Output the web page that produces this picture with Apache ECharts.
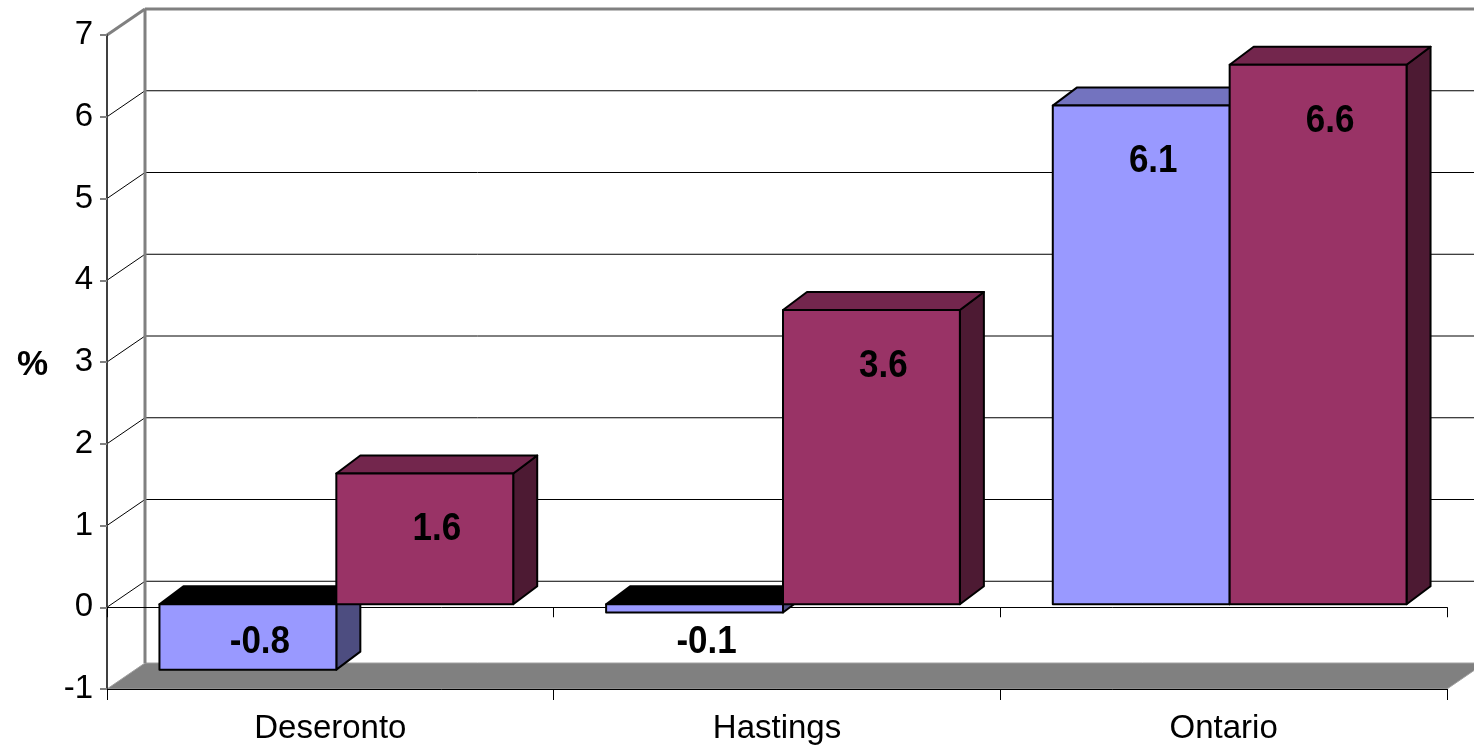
<!DOCTYPE html>
<html>
<head>
<meta charset="utf-8">
<script src="https://cdn.jsdelivr.net/npm/echarts@6/dist/echarts.min.js"></script>
<style>
html,body{margin:0;padding:0;background:#fff;}
#chart{width:1474px;height:747px;}
</style>
</head>
<body>
<div id="chart"></div>
<script>
// ---- data ----
const categories = ['Deseronto', 'Hastings', 'Ontario'];
const seriesA = [-0.8, -0.1, 6.1];   // blue series
const seriesB = [1.6, 3.6, 6.6];     // maroon series
const yMin = -1, yMax = 7, yStep = 1;

// ---- style constants ----
const FONT = 'Liberation Sans, Arial, sans-serif';
const WALL_DX = 38, WALL_DY = -26;     // depth of chart walls
const BAR_OFF_X = 6, BAR_OFF_Y = -3;   // bar front face offset into depth
const BAR_DX = 24, BAR_DY = -18;       // bar depth
const BAR_FRAC = 0.396;                // bar width / category width

const chart = echarts.init(document.getElementById('chart'));

function bgRender(params, api) {
  const cs = params.coordSys;
  const left = cs.x, right = cs.x + cs.width;
  const children = [];
  const yb = api.coord([0, yMin])[1];
  const yt = api.coord([0, yMax])[1];
  children.push({type: 'polygon', shape: {points: [[left, yb], [right, yb], [right + WALL_DX, yb + WALL_DY], [left + WALL_DX, yb + WALL_DY]]},
    style: {fill: '#808080', stroke: '#a0a0a0', lineWidth: 1}});
  for (let v = yMin + yStep; v < yMax; v += yStep) {
    const y = api.coord([0, v])[1];
    children.push({type: 'line', shape: {x1: left, y1: y, x2: left + WALL_DX, y2: y + WALL_DY}, style: {stroke: '#000', lineWidth: 1}});
    children.push({type: 'line', shape: {x1: left + WALL_DX, y1: y + WALL_DY, x2: right + WALL_DX + 40, y2: y + WALL_DY}, style: {stroke: '#000', lineWidth: 1}});
  }
  children.push({type: 'line', shape: {x1: left + WALL_DX, y1: yt + WALL_DY, x2: left + WALL_DX, y2: yb + WALL_DY}, style: {stroke: '#808080', lineWidth: 3}});
  children.push({type: 'line', shape: {x1: left, y1: yt, x2: left + WALL_DX, y2: yt + WALL_DY}, style: {stroke: '#808080', lineWidth: 3}});
  children.push({type: 'line', shape: {x1: left + WALL_DX, y1: yt + WALL_DY, x2: right + WALL_DX + 40, y2: yt + WALL_DY}, style: {stroke: '#808080', lineWidth: 3}});
  return {type: 'group', children: children};
}

function barRender(side, front, top, sideCol) {
  return function (params, api) {
    const idx = api.value(0), v = api.value(1);
    const c = api.coord([idx, 0]);
    const p = api.coord([idx, v]);
    const catW = api.size([1, 0])[0];
    const bw = catW * BAR_FRAC;
    const x0 = c[0] + BAR_OFF_X + side * bw, x1 = x0 + bw;
    const yZero = c[1] + BAR_OFF_Y, yVal = p[1] + BAR_OFF_Y;
    const yTop = Math.min(yZero, yVal), yBot = Math.max(yZero, yVal);
    const stroke = {stroke: '#000', lineWidth: 2, lineJoin: 'round'};
    const children = [
      {type: 'polygon', shape: {points: [[x1, yTop], [x1 + BAR_DX, yTop + BAR_DY], [x1 + BAR_DX, yBot + BAR_DY], [x1, yBot]]},
        style: Object.assign({fill: sideCol}, stroke)},
      {type: 'polygon', shape: {points: [[x0, yTop], [x1, yTop], [x1 + BAR_DX, yTop + BAR_DY], [x0 + BAR_DX, yTop + BAR_DY]]},
        style: Object.assign({fill: v < 0 ? '#000' : top}, stroke)},
      {type: 'rect', shape: {x: x0, y: yTop, width: bw, height: yBot - yTop},
        style: Object.assign({fill: front}, stroke)}
    ];
    const lx = (x0 + x1) / 2 + 12;
    const ly = v >= 0 ? yTop + 56 : yZero + 38;
    children.push({type: 'text', x: lx, y: ly, z2: 10, scaleY: 1.12,
      style: {text: v.toFixed(1), fill: '#000', font: 'bold 35px ' + FONT, align: 'center', verticalAlign: 'middle'}});
    return {type: 'group', children: children};
  };
}

const option = {
  animation: false,
  backgroundColor: '#fff',
  title: {text: '%', left: 12, top: 343, textStyle: {fontFamily: FONT, fontSize: 35, fontWeight: 'bold', color: '#000'}},
  grid: {left: 107, right: 27, top: 35, bottom: 58},
  xAxis: [
    {type: 'category', data: categories, z: 1,
      axisLine: {onZero: false, lineStyle: {color: '#000', width: 1}},
      axisTick: {show: true, length: 11, lineStyle: {color: '#000'}},
      axisLabel: {color: '#000', fontFamily: FONT, fontSize: 33, margin: 23},
      splitLine: {show: false}},
    {type: 'category', data: categories, z: 1, position: 'bottom',
      axisLine: {onZero: true, lineStyle: {color: '#000', width: 1}},
      axisTick: {show: true, length: 10, lineStyle: {color: '#000'}},
      axisLabel: {show: false}, splitLine: {show: false}}
  ],
  yAxis: {type: 'value', min: yMin, max: yMax, interval: yStep, z: 1,
    axisLine: {show: true, lineStyle: {color: '#404040', width: 2}},
    axisTick: {show: true, length: 7, lineStyle: {color: '#808080', width: 2}},
    axisLabel: {color: '#000', fontFamily: FONT, fontSize: 33, margin: 14},
    splitLine: {show: false}},
  series: [
    {type: 'custom', z: 0, clip: false, silent: true, renderItem: bgRender, data: [[0, 0]], encode: {x: 0, y: 1}},
    {type: 'custom', z: 3, clip: false, renderItem: barRender(-1, '#9999FF', '#7373BF', '#4D4D80'),
      data: seriesA.map((v, i) => [i, v]), encode: {x: 0, y: 1}},
    {type: 'custom', z: 4, clip: false, renderItem: barRender(0, '#993366', '#73264D', '#4D1A33'),
      data: seriesB.map((v, i) => [i, v]), encode: {x: 0, y: 1}}
  ]
};
chart.setOption(option);
</script>
</body>
</html>
